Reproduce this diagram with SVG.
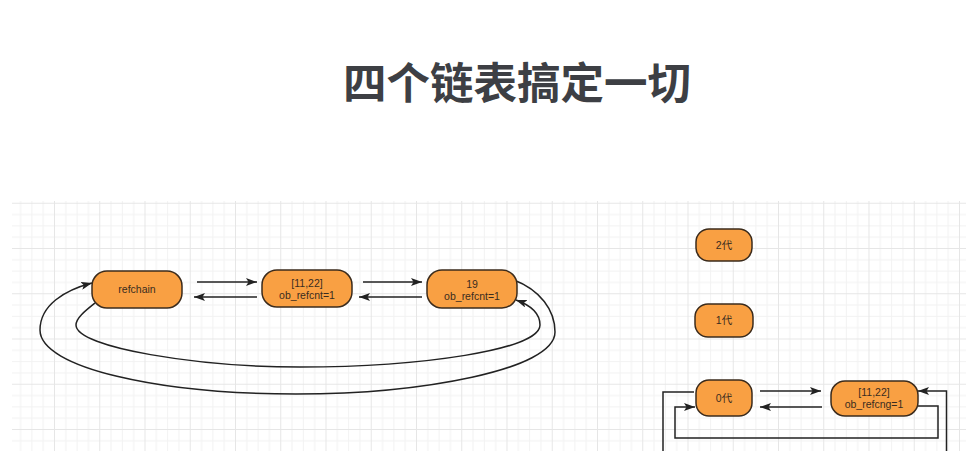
<svg xmlns="http://www.w3.org/2000/svg" width="966" height="451" viewBox="0 0 966 451">
<defs>
<pattern id="grid" patternUnits="userSpaceOnUse" x="8.75" y="21.75" width="45.25" height="45.25">
<path d="M0 0.5H45.25M0 11.81H45.25M0 23.12H45.25M0 34.44H45.25M0.5 0V45.25M11.81 0V45.25M23.12 0V45.25M34.44 0V45.25" stroke="#f2f2f2" stroke-width="1" fill="none"/>
<path d="M0 0.5H45.25M0.5 0V45.25" stroke="#e6e6e6" stroke-width="1" fill="none"/>
</pattern>
<marker id="ah" viewBox="0 0 11 8" refX="11" refY="4" markerWidth="11" markerHeight="8" markerUnits="userSpaceOnUse" orient="auto">
<path d="M0 0L11 4L0 8L2.5 4Z" fill="#222"/>
</marker>
<style>
.node rect{fill:#f9a043;stroke:#3b2b1c;stroke-width:1.5}
.node text{font-family:"Liberation Sans","Noto Sans CJK SC",sans-serif;font-size:10.5px;fill:#3a2c20;text-anchor:middle}
.edge{fill:none;stroke:#222;stroke-width:1.5}
</style>
</defs>
<rect width="966" height="451" fill="#ffffff"/>
<rect x="12" y="201" width="954" height="250" fill="url(#grid)"/>
<text x="517" y="99" font-family="'Noto Sans CJK SC','Noto Sans',sans-serif" font-weight="bold" font-size="43.5" fill="#3d3f44" text-anchor="middle">四个链表搞定一切</text>

<g id="connectors">
<path class="edge" d="M197 282H257" marker-end="url(#ah)"/>
<path class="edge" d="M257 297H194" marker-end="url(#ah)"/>
<path class="edge" d="M363 282H422" marker-end="url(#ah)"/>
<path class="edge" d="M422 297H359" marker-end="url(#ah)"/>
<path class="edge" d="M95 303C85 311 76 318 76 325C76 348 200 367 300 367C420 367 540 350 540 325C540 313 530 305 516 300" marker-end="url(#ah)"/>
<path class="edge" d="M514 280C540 290 555 310 555 332C555 370 420 394 296 394C160 394 40 368 40 330C40 305 65 290 92 283" marker-end="url(#ah)"/>
<path class="edge" d="M760 391H821" marker-end="url(#ah)"/>
<path class="edge" d="M822 407H760" marker-end="url(#ah)"/>
<path class="edge" d="M694 392H663V460"/>
<path class="edge" d="M918 406H938V438H675V407H695" marker-end="url(#ah)"/>
<path class="edge" d="M946.5 460V391H918" marker-end="url(#ah)"/>
</g>

<g id="node-refchain" class="node">
<rect x="92" y="271" width="90" height="37" rx="15"/>
<text x="137" y="293">refchain</text>
</g>
<g id="node-1122" class="node">
<rect x="262" y="270" width="90" height="37" rx="15"/>
<text x="307" y="287">[11,22]</text>
<text x="307" y="299">ob_refcnt=1</text>
</g>
<g id="node-19" class="node">
<rect x="427" y="270" width="90" height="38" rx="15"/>
<text x="472" y="288">19</text>
<text x="472" y="300">ob_refcnt=1</text>
</g>
<g id="node-gen2" class="node">
<rect x="696" y="229" width="56" height="32" rx="13"/>
<text x="724" y="249">2代</text>
</g>
<g id="node-gen1" class="node">
<rect x="695" y="304" width="58" height="33" rx="13"/>
<text x="724" y="324">1代</text>
</g>
<g id="node-gen0" class="node">
<rect x="696" y="380" width="56" height="36" rx="13"/>
<text x="724" y="402">0代</text>
</g>
<g id="node-1122-gen" class="node">
<rect x="831" y="381" width="87" height="35" rx="14"/>
<text x="874" y="396">[11,22]</text>
<text x="874" y="408">ob_refcng=1</text>
</g>
</svg>
